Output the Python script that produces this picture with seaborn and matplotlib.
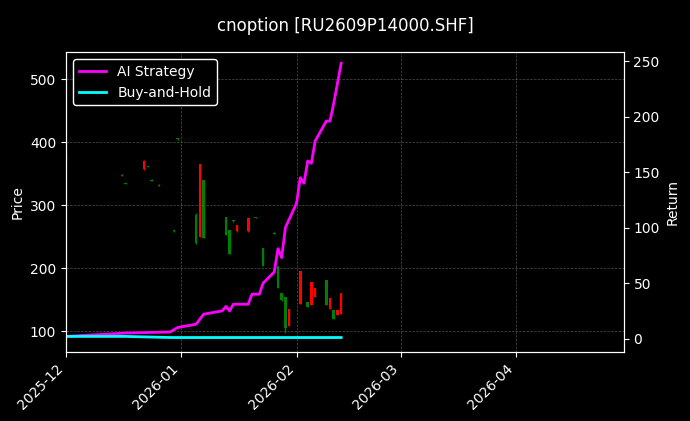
import matplotlib
matplotlib.use("Agg")
import matplotlib.pyplot as plt
import matplotlib.dates as mdates
import seaborn as sns
import pandas as pd
import numpy as np

plt.style.use("dark_background")
plt.rcParams['font.family'] = ['DejaVu Sans']
plt.rcParams['font.size'] = 10

candle_dates = ["2025-12-01","2025-12-16","2025-12-17","2025-12-22","2025-12-23","2025-12-24","2025-12-26",
                "2025-12-30","2025-12-31","2026-01-05","2026-01-06","2026-01-07","2026-01-13","2026-01-14",
                "2026-01-15","2026-01-16","2026-01-19","2026-01-21","2026-01-23","2026-01-26","2026-01-27",
                "2026-01-28","2026-01-29","2026-01-30","2026-02-02","2026-02-04","2026-02-05","2026-02-06",
                "2026-02-09","2026-02-10","2026-02-11","2026-02-12","2026-02-13"]
opens  = [382,348,335,357,362,340,332,260,406,285,249,340,282,260,276,259,259,281,232,256,203,160,154,109,143,146,141,155,182,136,133,125,128]
closes = [371,347,334,371,361,339,331,259,405,240,366,248,252,222,275,268,279,280,203,255,168,149,105,136,195,138,178,168,141,152,120,133,160]
highs  = [382,349,336,372,363,341,333,261,407,287,366,340,282,260,277,269,280,282,232,257,203,161,154,136,195,146,178,168,182,152,133,133,160]
lows   = [371,346,333,356,360,338,330,258,404,238,249,248,252,222,274,258,258,279,203,254,168,148,97,109,143,138,141,155,141,136,120,125,128]

ret_dates = ["2025-12-01","2025-12-17","2025-12-29","2025-12-31","2026-01-05","2026-01-07","2026-01-12",
             "2026-01-13","2026-01-14","2026-01-15","2026-01-19","2026-01-20","2026-01-22","2026-01-23",
             "2026-01-26","2026-01-27","2026-01-28","2026-01-29","2026-02-01","2026-02-02","2026-02-03",
             "2026-02-04","2026-02-05","2026-02-06","2026-02-09","2026-02-10","2026-02-11","2026-02-12","2026-02-13"]
ai_ret = [2,5,6,10,13,22,25,29,25,31,31,40,40,50,60,81,73,100,122,145,140,160,158,178,196,196,212,230,248]
bh_ret = [2,2,1,1,1,1,1,1,1,1,1,1,1,1,1,1,1,1,1,1,1,1,1,1,1,1,1,1,1]

fig = plt.figure(figsize=(6.9, 4.21), dpi=100, facecolor="black")
ax = fig.add_axes([0.0957, 0.164, 0.8083, 0.712])
ax.set_facecolor("black")
cd = pd.to_datetime(candle_dates)
o = np.array(opens); c = np.array(closes)
colors = np.where(c >= o, "red", "green")
ax.vlines(cd, lows, highs, colors=colors, linewidth=1)
ax.bar(cd, np.maximum(np.abs(c - o), 1), bottom=np.minimum(o, c), width=0.7, color=colors, linewidth=0)
ax.set_ylim(67, 543)
ax.set_ylabel("Price", color="white")
ax.grid(True, color="gray", linestyle="--", linewidth=0.5, alpha=0.6)
ax.set_xlim(pd.Timestamp("2025-12-01"), pd.Timestamp("2026-04-30"))
ax.xaxis.set_major_locator(mdates.MonthLocator())
ax.xaxis.set_major_formatter(mdates.DateFormatter("%Y-%m"))
plt.setp(ax.get_xticklabels(), rotation=45, ha="right")

ax2 = ax.twinx()
df = pd.DataFrame({"date": pd.to_datetime(ret_dates), "ai": ai_ret, "bh": bh_ret})
sns.lineplot(data=df, x="date", y="ai", ax=ax2, color="magenta", linewidth=2, label="AI Strategy")
sns.lineplot(data=df, x="date", y="bh", ax=ax2, color="cyan", linewidth=2, label="Buy-and-Hold")
ax2.set_ylim(-12, 258)
ax2.set_ylabel("Return", color="white")
ax2.set_xlabel("")
ax2.set_xlim(pd.Timestamp("2025-12-01"), pd.Timestamp("2026-04-30"))
leg = ax2.legend(loc="upper left", facecolor="black", edgecolor="white", framealpha=1)
for s in list(ax.spines.values()) + list(ax2.spines.values()):
    s.set_color("white")
fig.suptitle("cnoption [RU2609P14000.SHF]", color="white", y=0.96, fontsize=12)
fig.savefig("out.png", dpi=100, facecolor="black")
